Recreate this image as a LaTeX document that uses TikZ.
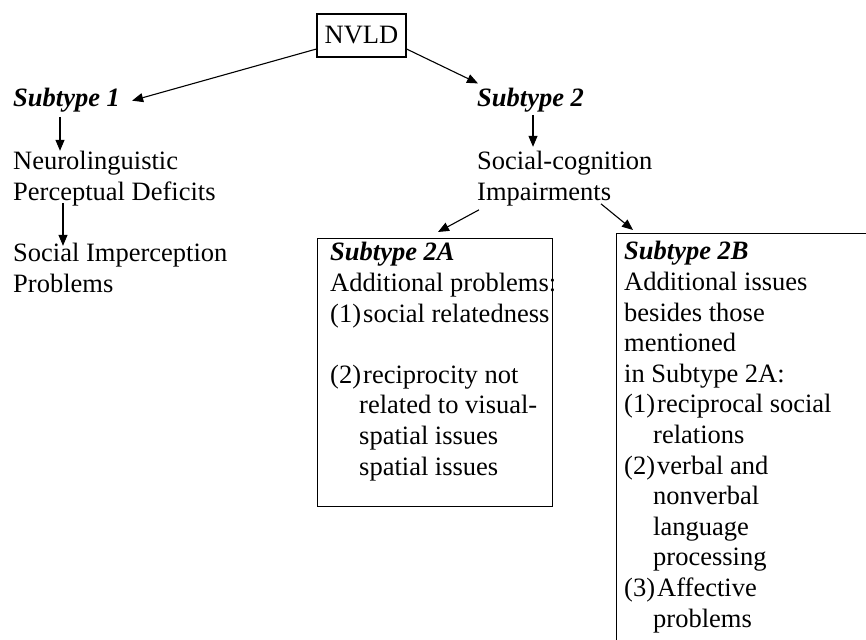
\documentclass[tikz,border=0pt]{standalone}
\usepackage{fontspec}
\setmainfont{Liberation Serif}
\usetikzlibrary{arrows.meta}
\newcommand{\fsz}{\fontsize{26.5}{30.6}\selectfont}
\newcommand{\itm}[1]{\makebox[33pt][l]{#1}}
\newcommand{\ind}{\hspace*{29pt}}
\tikzset{
  txt/.style={inner sep=0pt, anchor=base west, align=left, font=\fsz},
  hd/.style={txt, font=\fsz\bfseries\itshape},
  arr/.style={-{Triangle[length=11pt,width=9pt]}, line width=1.1pt},
  box/.style={draw, line width=1.1pt, inner sep=0pt, anchor=north west}
}
\begin{document}
\begin{tikzpicture}[x=1pt,y=-1pt]
\useasboundingbox (0,0) rectangle (866,639);
\clip (0,0) rectangle (866,639);
\fill[white] (0,0) rectangle (866,639);

\node[draw, line width=1.1pt, minimum width=89pt, minimum height=43pt, inner sep=0pt, font=\fsz] (nvld) at (361.5,35.5) {\raisebox{-3.5pt}{NVLD}};

% multi-line text nodes are placed at the baseline of their last line
\node[hd] (s1) at (13,107) {Subtype 1};
\node[txt] (nl) at (13,200) {Neurolinguistic\\Perceptual Deficits};
\node[txt] (sip) at (13,292) {Social Imperception\\Problems};

\node[hd] (s2) at (477,107) {Subtype 2};
\node[txt] (sc) at (477,200) {Social-cognition\\Impairments};

\node[box, minimum width=235pt, minimum height=268pt] (b2a) at (317,238) {};
\node[txt] (t2a) at (330,475) {\textbf{\textit{Subtype 2A}}\\
Additional problems:\\
\itm{(1)}social relatedness\\[30.6pt]
\itm{(2)}reciprocity not\\
\ind related to visual-\\
\ind spatial issues\\
\ind spatial issues};

\node[box, minimum width=280pt, minimum height=440pt] (b2b) at (616,233) {};
\node[txt] (t2b) at (624,627) {\textbf{\textit{Subtype 2B}}\\
Additional issues\\
besides those\\
mentioned\\
in Subtype 2A:\\
\itm{(1)}reciprocal social\\
\ind relations\\
\itm{(2)}verbal and\\
\ind nonverbal\\
\ind language\\
\ind processing\\
\itm{(3)}Affective\\
\ind problems};

\draw[arr] ([yshift=-13.5pt]nvld.west) -- ([xshift=12pt]s1.east);
\draw[arr] ([yshift=-13.5pt]nvld.east) -- ([shift={(1pt,5pt)}]s2.north west);
\draw[arr] ([shift={(47pt,-4pt)}]s1.south west) -- ([xshift=47pt]nl.north west);
\draw[arr] ([shift={(50pt,3pt)}]nl.south west) -- ([shift={(50pt,-3pt)}]sip.north west);
\draw[arr] ([shift={(56pt,-2pt)}]s2.south west) -- ([shift={(56pt,4pt)}]sc.north west);
\draw[arr] ([shift={(2pt,-4pt)}]sc.south west) -- ([shift={(121pt,6pt)}]b2a.north west);
\draw[arr] ([shift={(124pt,2pt)}]sc.south west) -- ([shift={(17pt,3pt)}]b2b.north west);
\end{tikzpicture}
\end{document}
